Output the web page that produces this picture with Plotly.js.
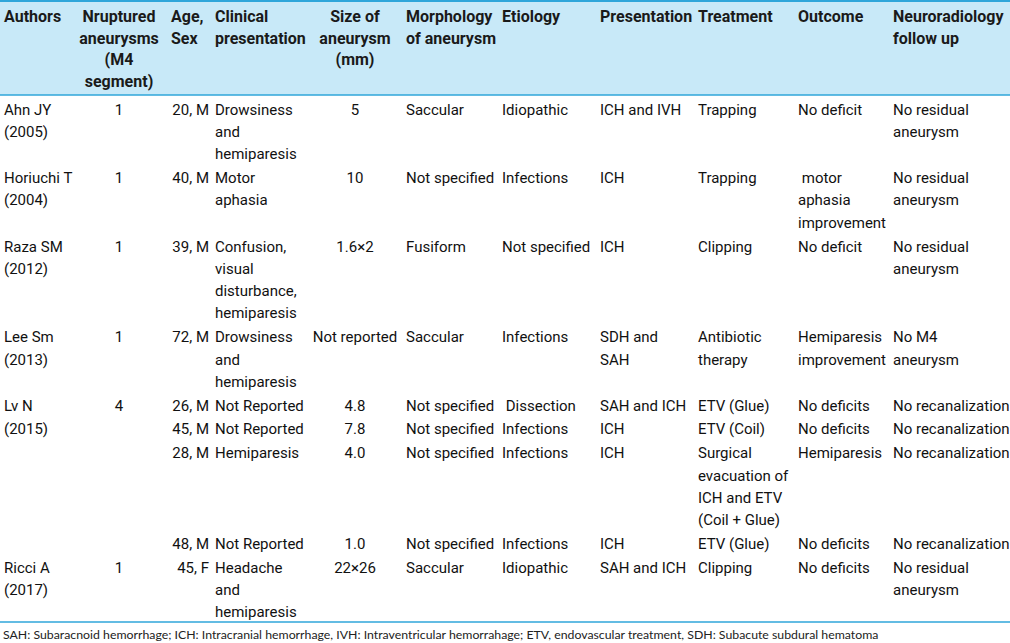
<!DOCTYPE html>
<html>
<head>
<meta charset="utf-8">
<script src="https://cdn.plot.ly/plotly-3.0.1.min.js"></script>
<style>html,body{margin:0;padding:0;background:#fff}#chart{width:1010px;height:643px}</style>
</head>
<body>
<div id="chart"></div>
<script>
// ---- data ----
const headers = [
  "Authors",
  "Nruptured\naneurysms\n(M4\nsegment)",
  "Age,\nSex",
  "Clinical\npresentation",
  "Size of\naneurysm\n(mm)",
  "Morphology\nof aneurysm",
  "Etiology",
  "Presentation",
  "Treatment",
  "Outcome",
  "Neuroradiology\nfollow up"
];
const authors = ["Ahn JY\n(2005)", "Horiuchi T\n(2004)", "Raza SM\n(2012)", "Lee Sm\n(2013)", "Lv N", "(2015)", "", "", "Ricci A\n(2017)"];
const nAneurysms = ["1", "1", "1", "1", "4", "", "", "", "1"];
const ageSex = ["20, M", "40, M", "39, M", "72, M", "26, M", "45, M", "28, M", "48, M", "45, F"];
const clinical = ["Drowsiness\nand\nhemiparesis", "Motor\naphasia", "Confusion,\nvisual\ndisturbance,\nhemiparesis", "Drowsiness\nand\nhemiparesis", "Not Reported", "Not Reported", "Hemiparesis", "Not Reported", "Headache\nand\nhemiparesis"];
const sizeMm = ["5", "10", "1.6×2", "Not reported", "4.8", "7.8", "4.0", "1.0", "22×26"];
const morphology = ["Saccular", "Not specified", "Fusiform", "Saccular", "Not specified", "Not specified", "Not specified", "Not specified", "Saccular"];
const etiology = ["Idiopathic", "Infections", "Not specified", "Infections", " Dissection", "Infections", "Infections", "Infections", "Idiopathic"];
const presentation = ["ICH and IVH", "ICH", "ICH", "SDH and\nSAH", "SAH and ICH", "ICH", "ICH", "ICH", "SAH and ICH"];
const treatment = ["Trapping", "Trapping", "Clipping", "Antibiotic\ntherapy", "ETV (Glue)", "ETV (Coil)", "Surgical\nevacuation of\nICH and ETV\n(Coil + Glue)", "ETV (Glue)", "Clipping"];
const outcome = ["No deficit", " motor\naphasia\nimprovement", "No deficit", "Hemiparesis\nimprovement", "No deficits", "No deficits", "Hemiparesis", "No deficits", "No deficits"];
const followUp = ["No residual\naneurysm", "No residual\naneurysm", "No residual\naneurysm", "No M4\naneurysm", "No recanalization", "No recanalization", "No recanalization", "No recanalization", "No residual\naneurysm"];
const footnote = "SAH: Subaracnoid hemorrhage; ICH: Intracranial hemorrhage, IVH: Intraventricular hemorrahage; ETV, endovascular treatment, SDH: Subacute subdural hematoma";

const columns = [authors, nAneurysms, ageSex, clinical, sizeMm, morphology, etiology, presentation, treatment, outcome, followUp];

// ---- layout config (positions / styles) ----
const colX      = [4, 119, 209, 215, 355, 406, 502, 600, 698, 798, 893];
const colAlign  = ["left", "center", "right", "left", "center", "left", "left", "left", "left", "left", "left"];
const headX     = [4, 119, 171, 215, 355, 406, 502, 600, 698, 798, 893];
const headAlign = ["left", "center", "left", "left", "center", "left", "left", "left", "left", "left", "left"];
const headTop = 18, headPitch = 21.7;
const bodyTop = 111, bodyPitch = 22.3, recordGap = 1.5;
const bodyFont = "Roboto, 'Liberation Sans', sans-serif";
const headFont = "Roboto, 'Liberation Sans', sans-serif";
const ruleColor = "#2fa6da";
const headFill = "#c8e9f8";

const posFor = a => a === "left" ? "middle right" : (a === "right" ? "middle left" : "middle center");

// record first-line positions
const nRec = authors.length;
const recLines = [];
for (let r = 0; r < nRec; r++) {
  recLines.push(Math.max(...columns.map(c => c[r] === "" ? 1 : c[r].split("\n").length)));
}
const recY = [];
let yCur = bodyTop;
for (let r = 0; r < nRec; r++) { recY.push(yCur); yCur += recLines[r] * bodyPitch + recordGap; }

const traces = [];
// header
headers.forEach((h, c) => {
  const lines = h.split("\n");
  traces.push({
    type: "scatter", mode: "text", hoverinfo: "skip", showlegend: false,
    x: lines.map(() => headX[c]),
    y: lines.map((_, i) => headTop + i * headPitch),
    text: lines.map(t => "<b>" + t + "</b>"),
    textposition: posFor(headAlign[c]),
    textfont: {family: headFont, size: 16, color: "#1a1a1a"},
    cliponaxis: false
  });
});
// body
columns.forEach((col, c) => {
  const xs = [], ys = [], ts = [];
  col.forEach((cell, r) => {
    if (cell === "") return;
    cell.split("\n").forEach((t, i) => {
      xs.push(colX[c]); ys.push(recY[r] + i * bodyPitch); ts.push(t);
    });
  });
  traces.push({
    type: "scatter", mode: "text", hoverinfo: "skip", showlegend: false,
    x: xs, y: ys, text: ts,
    textposition: posFor(colAlign[c]),
    textfont: {family: bodyFont, size: 15, color: "#111111"},
    cliponaxis: false
  });
});

const layout = {
  width: 1010, height: 643,
  margin: {l: 0, r: 0, t: 0, b: 0},
  paper_bgcolor: "#ffffff", plot_bgcolor: "#ffffff",
  xaxis: {range: [0, 1010], visible: false, fixedrange: true},
  yaxis: {range: [643, 0], visible: false, fixedrange: true},
  shapes: [
    {type: "rect", xref: "x", yref: "y", x0: 0, x1: 1010, y0: 1, y1: 95, fillcolor: headFill, line: {width: 0}, layer: "below"},
    {type: "line", xref: "x", yref: "y", x0: 0, x1: 1010, y0: 1, y1: 1, line: {color: ruleColor, width: 2}},
    {type: "line", xref: "x", yref: "y", x0: 0, x1: 1010, y0: 95, y1: 95, line: {color: ruleColor, width: 1.5}},
    {type: "line", xref: "x", yref: "y", x0: 0, x1: 1010, y0: 622, y1: 622, line: {color: ruleColor, width: 1.5}}
  ],
  annotations: [
    {xref: "x", yref: "y", x: 1, y: 634, xanchor: "left", yanchor: "middle", showarrow: false,
     text: footnote, font: {family: "Lato, 'Open Sans', sans-serif", size: 12.3, color: "#222222"}}
  ]
};

Plotly.newPlot("chart", traces, layout, {staticPlot: true, displayModeBar: false});
</script>
</body>
</html>
